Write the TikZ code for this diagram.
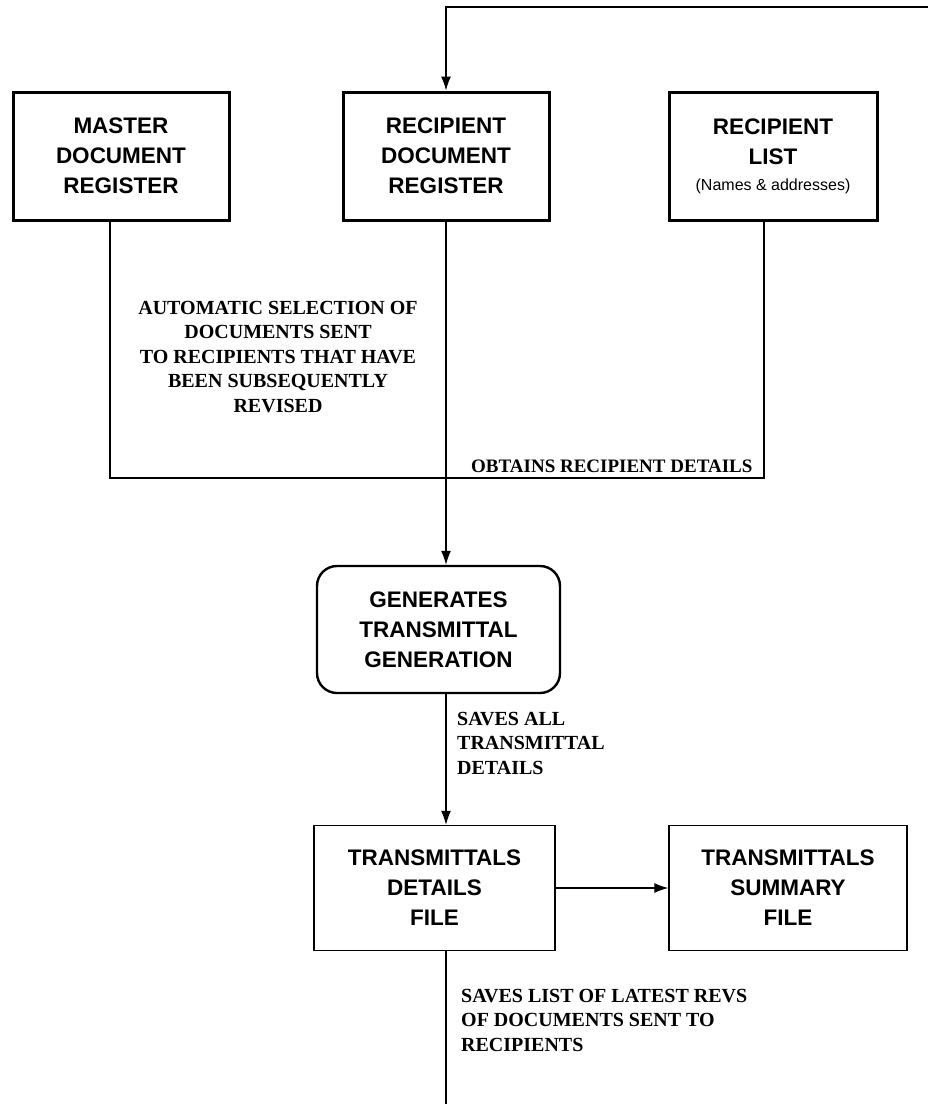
\documentclass[tikz,border=0pt]{standalone}
\usepackage{fontspec}
\setmainfont{Liberation Serif}
\setsansfont{Liberation Sans}
\usetikzlibrary{arrows.meta, positioning}

\begin{document}
\begin{tikzpicture}[
    x=1pt, y=-1pt,
    >={Latex[length=14pt,width=10pt]},
    box/.style={draw, inner sep=0pt, align=center,
        font=\sffamily\bfseries\fontsize{22.5}{30}\selectfont},
    regbox/.style={box, line width=3pt, minimum height=128pt},
    filebox/.style={box, line width=1.4pt, minimum height=125pt},
    procbox/.style={box, line width=2.4pt, rounded corners=20pt,
        minimum width=243pt, minimum height=127pt},
    note/.style={inner sep=0pt, font=\rmfamily\bfseries\fontsize{20}{24.5}\selectfont},
    line/.style={->, line width=1.2pt},
    plain/.style={line width=1.2pt}
]
\useasboundingbox (0,0) rectangle (928,1104);

% Nodes
\node[regbox, minimum width=216pt] (master) at (121,156) {MASTER\\DOCUMENT\\REGISTER};
\node[regbox, minimum width=206pt] (recreg) at (446,156) {RECIPIENT\\DOCUMENT\\REGISTER};
\node[regbox, minimum width=208pt] (reclist) at (773,156)
    {RECIPIENT\\LIST\\[-4pt]{\mdseries\fontsize{16}{18}\selectfont(Names \& addresses)}};

\node[procbox] (generate) at (438.5,629.5) {GENERATES\\TRANSMITTAL\\GENERATION};

\node[filebox, minimum width=241pt] (details) at (434.5,888) {TRANSMITTALS\\DETAILS\\FILE};
\node[filebox, minimum width=238pt] (summary) at (788,888) {TRANSMITTALS\\SUMMARY\\FILE};

\coordinate (loopin) at (928,7);
\coordinate (merge) at (446,478);
\coordinate (loopout) at (446,1104);

% Labels
\node[note, align=center] (selection) at (278,357)
    {AUTOMATIC SELECTION OF\\DOCUMENTS SENT\\TO RECIPIENTS THAT HAVE\\BEEN SUBSEQUENTLY\\REVISED};
\node[note, anchor=base west, font=\rmfamily\bfseries\fontsize{19}{24}\selectfont] (obtains) at (471,472)
    {OBTAINS RECIPIENT DETAILS};
\node[note, align=left, anchor=west] (savesall) at (457,743) {SAVES ALL\\TRANSMITTAL\\DETAILS};
\node[note, align=left, anchor=west] (saveslist) at (461,1020)
    {SAVES LIST OF LATEST REVS\\OF DOCUMENTS SENT TO\\RECIPIENTS};

% Arrows
\draw[line] (loopin) -| (recreg.north);
\draw[plain] ([xshift=-11pt]master.south) |- (merge);
\draw[plain] ([xshift=-9pt]reclist.south) |- (merge);
\draw[line] (recreg.south) -- (recreg.south |- generate.north);
\draw[line] (recreg.south |- generate.south) -- (recreg.south |- details.north);
\draw[line] (details.east) -- (summary.west);
\draw[plain] (recreg.south |- details.south) -- (loopout);

\end{tikzpicture}
\end{document}
